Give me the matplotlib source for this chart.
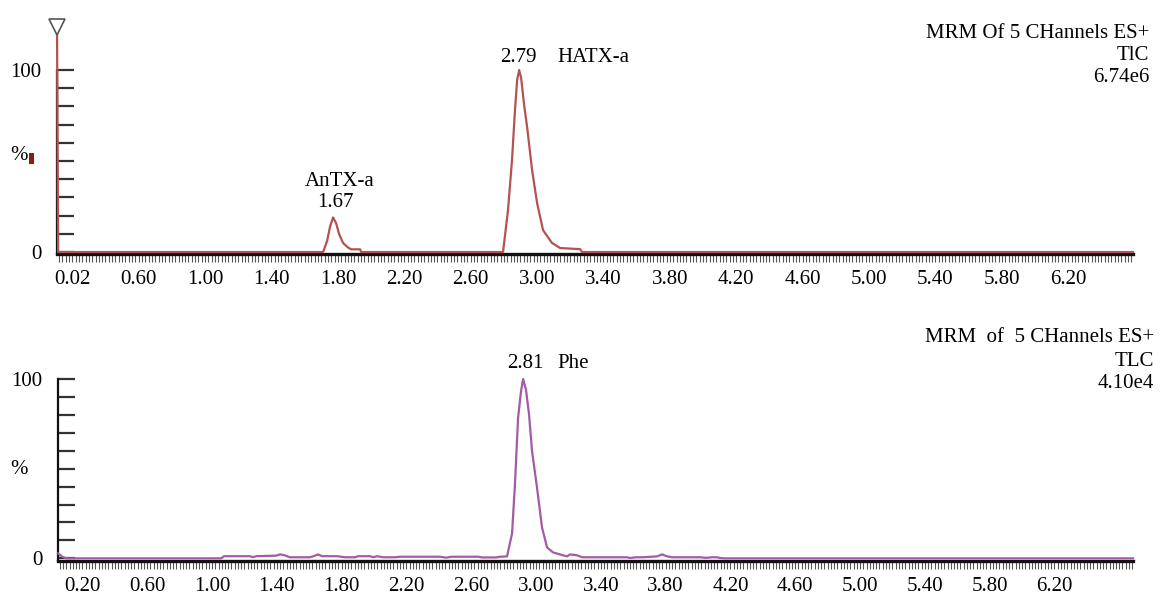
import matplotlib
matplotlib.use("Agg")
import matplotlib.pyplot as plt
from matplotlib.ticker import MultipleLocator
from matplotlib.patches import Rectangle

plt.rcParams["font.family"] = ["Liberation Serif", "DejaVu Serif"]

# top trace: MRM of 5 channels, TIC 6.74e6 (time in min, relative %)
top_time = [0.108, 0.115, 1.711, 1.735, 1.753, 1.771, 1.789, 1.807, 1.831, 1.861, 1.880, 1.934, 1.940,
            2.795, 2.825, 2.849, 2.867, 2.880, 2.892, 2.904, 2.922, 2.940, 2.970, 3.000, 3.036, 3.090,
            3.139, 3.259, 3.271, 6.59]
top_pct = [125, 0, 0, 6, 14, 19, 16, 10, 5, 2.5, 1.5, 1.5, 0,
           0, 23, 50.5, 78, 94.5, 100, 95.6, 80.8, 68.7, 45, 27, 12, 5,
           2.2, 1.6, 0, 0]

# bottom trace: Phe channel, TLC 4.10e4
bot_time = [0.049, 0.074, 0.099, 1.056, 1.074, 1.235, 1.253, 1.272, 1.395, 1.420, 1.444, 1.481, 1.605,
            1.636, 1.654, 1.679, 1.772, 1.821, 1.883, 1.901, 1.975, 1.994, 2.019, 2.056, 2.130, 2.160,
            2.407, 2.444, 2.481, 2.642, 2.667, 2.753, 2.778, 2.821, 2.852, 2.870, 2.889, 2.907, 2.920,
            2.938, 2.957, 2.975, 3.006, 3.037, 3.068, 3.105, 3.167, 3.191, 3.210, 3.253, 3.284, 3.333,
            3.562, 3.580, 3.617, 3.660, 3.747, 3.778, 3.809, 3.840, 3.907, 4.012, 4.049, 4.086, 4.117,
            4.136, 4.167, 6.685]
bot_pct = [2.8, 1.0, 0, 0, 1.2, 1.2, 0.6, 1.2, 1.5, 2.2, 1.8, 0.6, 0.6,
           1.5, 2.2, 1.2, 1.2, 0.6, 0.6, 1.2, 1.2, 0.6, 1.2, 0.6, 0.6, 0.9,
           0.9, 0.4, 0.9, 0.9, 0.5, 0.5, 0.9, 1.1, 13.9, 41.7, 78.3, 93, 100,
           94, 80, 60, 39.4, 17.2, 6.1, 3.3, 1.7, 1.1, 2.2, 1.7, 0.6, 0.6,
           0.6, 0.2, 0.6, 0.6, 1.1, 2.2, 1.1, 0.6, 0.6, 0.6, 0.3, 0.6, 0.6,
           0.2, 0, 0]

top_ticks = [0.2, 0.6, 1.0, 1.4, 1.8, 2.2, 2.6, 3.0, 3.4, 3.8, 4.2, 4.6, 5.0, 5.4, 5.8, 6.2]
top_ticklabels = ["0.02", "0.60", "1.00", "1.40", "1.80", "2.20", "2.60", "3.00", "3.40", "3.80",
                  "4.20", "4.60", "5.00", "5.40", "5.80", "6.20"]
bot_ticks = top_ticks
bot_ticklabels = ["0.20"] + top_ticklabels[1:]

W, H = 1161, 599
FS = 15
fig = plt.figure(figsize=(W / 100, H / 100), dpi=100)


def make_axes(left, right, y_bottom, y_top):
    return fig.add_axes([left / W, 1 - y_bottom / H, (right - left) / W, (y_bottom - y_top) / H])


def style(ax, xlim, ylim, ticks, labels):
    ax.set_xlim(*xlim)
    ax.set_ylim(*ylim)
    for s in ["top", "right"]:
        ax.spines[s].set_visible(False)
    ax.spines["bottom"].set_linewidth(2.4)
    ax.spines["bottom"].set_color("#111111")
    ax.spines["left"].set_linewidth(1.6)
    ax.spines["left"].set_color("#111111")
    ax.spines["left"].set_bounds(ylim[0], 100)
    ax.set_xticks(ticks)
    ax.set_xticklabels(labels, fontsize=FS)
    ax.xaxis.set_minor_locator(MultipleLocator(0.02))
    ax.tick_params(axis="x", which="both", direction="out", length=6, width=0.8, color="#555555", pad=6)
    ax.set_yticks(range(0, 101, 10))
    ax.set_yticklabels(["0"] + [""] * 9 + ["100"], fontsize=FS)
    ax.tick_params(axis="y", direction="in", length=12, width=1.6, color="#333333", pad=11)


# top panel
ax1 = make_axes(57, 1133, 253.5, 70)
style(ax1, (0.108, 6.59), (-0.8, 100), top_ticks, top_ticklabels)
ax1.plot(top_time, top_pct, color="#b5524f", lw=1.6, clip_on=False, zorder=3)
ax1.plot([0.108], [123.5], marker="v", ms=11, mfc="white", mec="#555555", mew=1.2, clip_on=False, zorder=4)
ax1.text(2.886, 107, "2.79", ha="center", va="center", fontsize=FS)
ax1.text(3.12, 107, "HATX-a", ha="left", va="center", fontsize=FS)
ax1.text(1.812, 39, "AnTX-a", ha="center", va="center", fontsize=FS)
ax1.text(1.783, 27, "1.67", ha="center", va="center", fontsize=FS)

# bottom panel
ax2 = make_axes(58, 1133, 560.5, 379)
style(ax2, (0.049, 6.685), (-1.2, 100), bot_ticks, bot_ticklabels)
ax2.plot(bot_time, bot_pct, color="#a45aa6", lw=1.6, clip_on=False, zorder=3)
ax2.text(2.932, 108.5, "2.81", ha="center", va="center", fontsize=FS)
ax2.text(3.13, 108.5, "Phe", ha="left", va="center", fontsize=FS)


def ftext(x, y, s, **kw):
    fig.text(x / W, 1 - y / H, s, fontsize=FS, va="center", **kw)


ftext(10, 155, "%")
fig.patches.append(Rectangle((29 / W, 1 - 164 / H), 5 / W, 11 / H, transform=fig.transFigure,
                             facecolor="#8b1a1a", edgecolor="none"))
ftext(10, 470, "%")

ftext(1149, 33, "MRM Of 5 CHannels ES+", ha="right")
ftext(1149, 55, "TlC", ha="right")
ftext(1149, 77, "6.74e6", ha="right")
ftext(1154, 337, "MRM  of  5 CHannels ES+", ha="right")
ftext(1154, 361, "TLC", ha="right")
ftext(1154, 384, "4.10e4", ha="right")

fig.savefig("out.png", dpi=100)
